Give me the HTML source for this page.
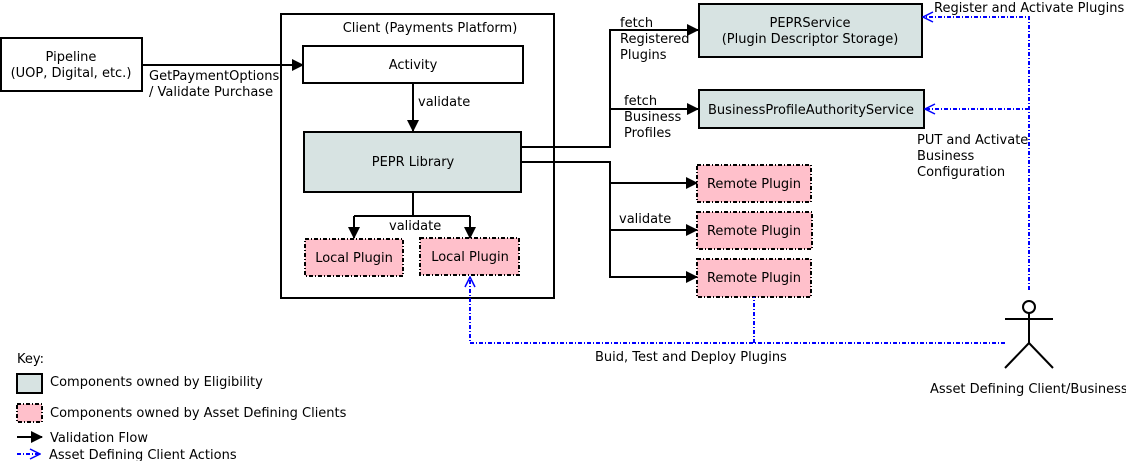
<!DOCTYPE html>
<html><head><meta charset="utf-8"><style>
html,body{margin:0;padding:0;background:#fff;}
svg text{font-family:"DejaVu Sans","Liberation Sans",sans-serif;font-size:13px;fill:#000;}
</style></head><body>
<svg width="1126" height="461" viewBox="0 0 1126 461" xmlns="http://www.w3.org/2000/svg">
<defs>
<marker id="a" markerWidth="12" markerHeight="12" refX="11" refY="6" orient="auto" markerUnits="userSpaceOnUse"><path d="M0,0 L12,6 L0,12 z" fill="#000"/></marker>
<marker id="b" markerWidth="12" markerHeight="12" refX="11" refY="6" orient="auto" markerUnits="userSpaceOnUse"><path d="M1,1 L11,6 L1,11" fill="none" stroke="#00f" stroke-width="1.5"/></marker>
</defs>
<g stroke="#000" stroke-width="2" fill="none">
<rect x="1" y="38" width="141" height="53" fill="#fff"/>
<rect x="281" y="14" width="273" height="284"/>
<rect x="303" y="46" width="220" height="37"/>
<rect x="304" y="132" width="217" height="60" fill="#d7e3e2"/>
<rect x="699" y="4" width="223" height="53" fill="#d7e3e2"/>
<rect x="699" y="90" width="225" height="38" fill="#d7e3e2"/>
<rect x="17" y="374" width="25" height="19" fill="#d7e3e2"/>
</g>
<g stroke="#000" stroke-width="2" fill="#ffc0cb" stroke-dasharray="4,2,1,2">
<rect x="305" y="239" width="98" height="37"/>
<rect x="420" y="238" width="99" height="37"/>
<rect x="697" y="165" width="114" height="37"/>
<rect x="697" y="212" width="115" height="37"/>
<rect x="697" y="259" width="114" height="38"/>
<rect x="17" y="404" width="25" height="18"/>
</g>
<g stroke="#000" stroke-width="2" fill="none">
<path d="M142,65 H303" marker-end="url(#a)"/>
<path d="M413,83 V131" marker-end="url(#a)"/>
<path d="M413,192 V216 M354,216 H470"/>
<path d="M354,216 V238" marker-end="url(#a)"/>
<path d="M470,216 V238" marker-end="url(#a)"/>
<path d="M521,147 H610 V30 H698" marker-end="url(#a)"/>
<path d="M610,109 H698" marker-end="url(#a)"/>
<path d="M521,162 H610 V277 H697" marker-end="url(#a)"/>
<path d="M610,183 H697" marker-end="url(#a)"/>
<path d="M610,230 H697" marker-end="url(#a)"/>
<path d="M17,437 H42" marker-end="url(#a)"/>
</g>
<g stroke="#00f" stroke-width="2" fill="none" stroke-dasharray="4,2,1,2">
<path d="M1029,290 V17 H923" marker-end="url(#b)"/>
<path d="M1029,109 H925" marker-end="url(#b)"/>
<path d="M1005,343 H470 V277" marker-end="url(#b)"/>
<path d="M754,343 V297"/>
<path d="M17,454 H40" marker-end="url(#b)"/>
</g>
<g stroke="#000" stroke-width="2" fill="none">
<circle cx="1029" cy="307" r="6"/>
<path d="M1029,313 V343 M1005,319 H1053 M1029,343 L1005,368 M1029,343 L1053,368"/>
</g>
<text x="71" y="61" text-anchor="middle">Pipeline</text>
<text x="71" y="77" text-anchor="middle">(UOP, Digital, etc.)</text>
<text x="149" y="80">GetPaymentOptions</text>
<text x="149" y="96">/ Validate Purchase</text>
<text x="430" y="32" text-anchor="middle">Client (Payments Platform)</text>
<text x="413" y="69" text-anchor="middle">Activity</text>
<text x="418" y="106">validate</text>
<text x="413" y="166" text-anchor="middle">PEPR Library</text>
<text x="389" y="230">validate</text>
<text x="354" y="262" text-anchor="middle">Local Plugin</text>
<text x="470" y="261" text-anchor="middle">Local Plugin</text>
<text x="620" y="27">fetch</text>
<text x="620" y="43">Registered</text>
<text x="620" y="59">Plugins</text>
<text x="624" y="105">fetch</text>
<text x="624" y="121">Business</text>
<text x="624" y="137">Profiles</text>
<text x="619" y="223">validate</text>
<text x="810" y="27" text-anchor="middle">PEPRService</text>
<text x="810" y="43" text-anchor="middle">(Plugin Descriptor Storage)</text>
<text x="811" y="114" text-anchor="middle">BusinessProfileAuthorityService</text>
<text x="754" y="188" text-anchor="middle">Remote Plugin</text>
<text x="754" y="235" text-anchor="middle">Remote Plugin</text>
<text x="754" y="282" text-anchor="middle">Remote Plugin</text>
<text x="934" y="12">Register and Activate Plugins</text>
<text x="917" y="144">PUT and Activate</text>
<text x="917" y="160">Business</text>
<text x="917" y="176">Configuration</text>
<text x="595" y="361">Buid, Test and Deploy Plugins</text>
<text x="930" y="393">Asset Defining Client/Business</text>
<text x="17" y="363">Key:</text>
<text x="50" y="386">Components owned by Eligibility</text>
<text x="50" y="417">Components owned by Asset Defining Clients</text>
<text x="50" y="442">Validation Flow</text>
<text x="49" y="459">Asset Defining Client Actions</text>
</svg>
</body></html>
